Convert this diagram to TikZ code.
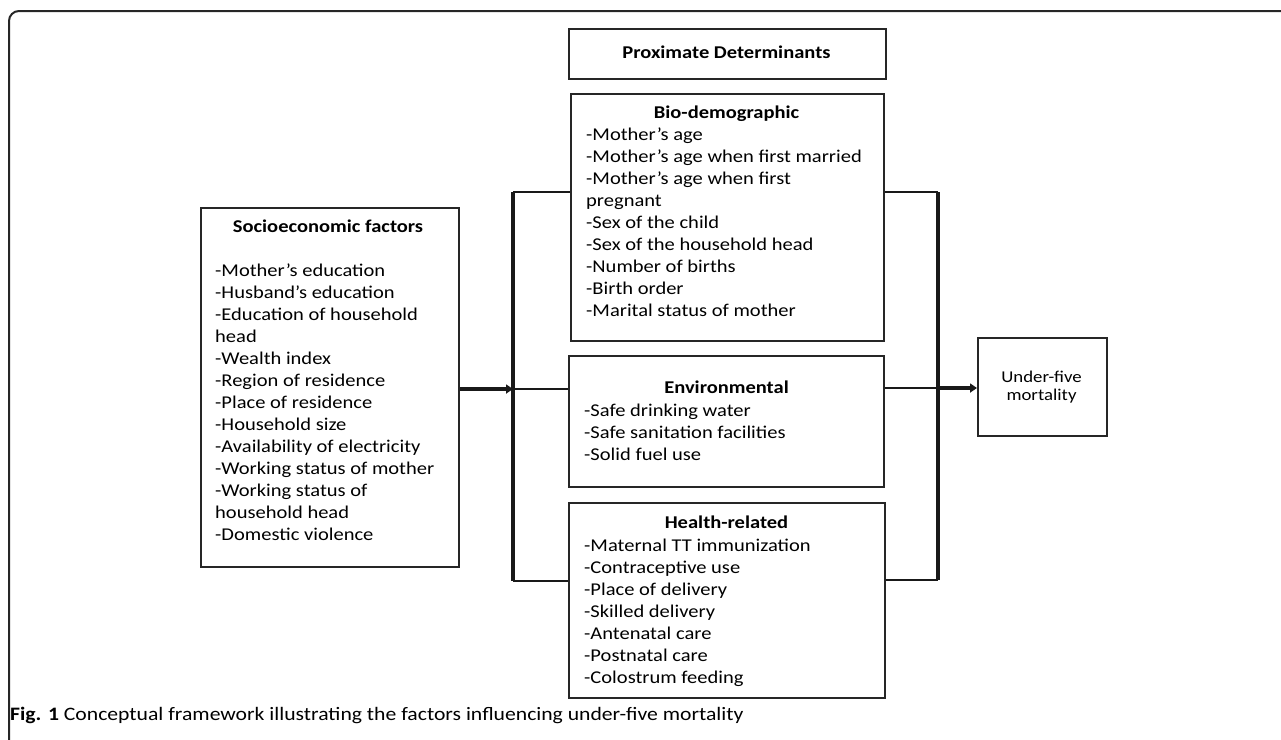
\documentclass[tikz,border=0pt]{standalone}
\usepackage{fontspec}
\setmainfont[FakeStretch=1.14]{Carlito}
\usetikzlibrary{arrows.meta}
\begin{document}
\begin{tikzpicture}[x=1pt,y=-1pt,
  box/.style={draw=black!85, line width=1.5pt, inner sep=0pt, anchor=north west},
  lst/.style={inner sep=0pt, anchor=base west, font=\fontsize{18}{22}\selectfont},
  ttl/.style={inner sep=0pt, anchor=base, font=\fontsize{18}{22}\selectfont\bfseries},
  hline/.style={line width=2.5pt, black!90},
  vline/.style={line width=3.5pt, black!90},
  arr/.style={line width=4pt, black!90, -{Triangle[length=7pt,width=9pt]}}
]
\useasboundingbox (0,0) rectangle (1281,739);
% outer frame (top and left only)
\draw[line width=2pt, black!85, rounded corners=10pt] (9,760) -- (9,11) -- (1300,11);

% boxes
\node[box, minimum width=317pt, minimum height=50pt] (prox) at (568,28) {};
\node[box, minimum width=313pt, minimum height=247pt] (bio) at (570,93) {};
\node[box, minimum width=315pt, minimum height=131pt] (env) at (568,355) {};
\node[box, minimum width=316pt, minimum height=195pt] (health) at (568,502) {};
\node[box, minimum width=258pt, minimum height=359pt] (soc) at (200,207) {};
\node[box, minimum width=129pt, minimum height=98pt] (und) at (977,337) {};

% texts
\node[ttl] (proxt) at (726.5,58) {Proximate Determinants};

\node[ttl] (biot) at (726.5,118) {Bio-demographic};
\node[lst] (biol) at (586,140) {\begin{tabular}[t]{@{}l@{}}
-Mother’s age\\
-Mother’s age when first married\\
-Mother’s age when first\\
pregnant\\
-Sex of the child\\
-Sex of the household head\\
-Number of births\\
-Birth order\\
-Marital status of mother
\end{tabular}};

\node[ttl] (envt) at (726.5,393) {Environmental};
\node[lst] (envl) at (584,416) {\begin{tabular}[t]{@{}l@{}}
-Safe drinking water\\
-Safe sanitation facilities\\
-Solid fuel use
\end{tabular}};

\node[ttl] (healtht) at (726.5,528) {Health-related};
\node[lst] (healthl) at (584,551) {\begin{tabular}[t]{@{}l@{}}
-Maternal TT immunization\\
-Contraceptive use\\
-Place of delivery\\
-Skilled delivery\\
-Antenatal care\\
-Postnatal care\\
-Colostrum feeding
\end{tabular}};

\node[ttl] (soct) at (328,232) {Socioeconomic factors};
\node[lst] (socl) at (215,276) {\begin{tabular}[t]{@{}l@{}}
-Mother’s education\\
-Husband’s education\\
-Education of household\\
head\\
-Wealth index\\
-Region of residence\\
-Place of residence\\
-Household size\\
-Availability of electricity\\
-Working status of mother\\
-Working status of\\
household head\\
-Domestic violence
\end{tabular}};

\node[lst, anchor=base, font=\fontsize{16.5}{20}\selectfont] (undt) at (1041.5,382) {\begin{tabular}[t]{@{}c@{}}
Under-five\\[-2pt]
mortality
\end{tabular}};

% caption
\node[inner sep=0pt, anchor=base west, font=\fontsize{19}{22}\selectfont] (cap) at (10,720)
  {\textbf{Fig. 1} Conceptual framework illustrating the factors influencing under-five mortality};

% connectors
\coordinate (lt) at (513,192);
\coordinate (lm) at (513,389);
\coordinate (lb) at (513,581);
\coordinate (rt) at (938,192);
\coordinate (rm) at (938,388);
\coordinate (rb) at (938,580);

\draw[vline] (lt) -- (lb);
\draw[vline] (rt) -- (rb);
\draw[hline] (lt) -- (lt -| bio.west);
\draw[hline] (lm) -- (lm -| env.west);
\draw[hline] (lb) -- (lb -| health.west);
\draw[hline] (rt -| bio.east) -- (rt);
\draw[hline] (rm -| env.east) -- (rm);
\draw[hline] (rb -| health.east) -- (rb);
\draw[arr] (lm -| soc.east) -- (lm);
\draw[arr] (rm) -- (rm -| und.west);
\end{tikzpicture}
\end{document}
